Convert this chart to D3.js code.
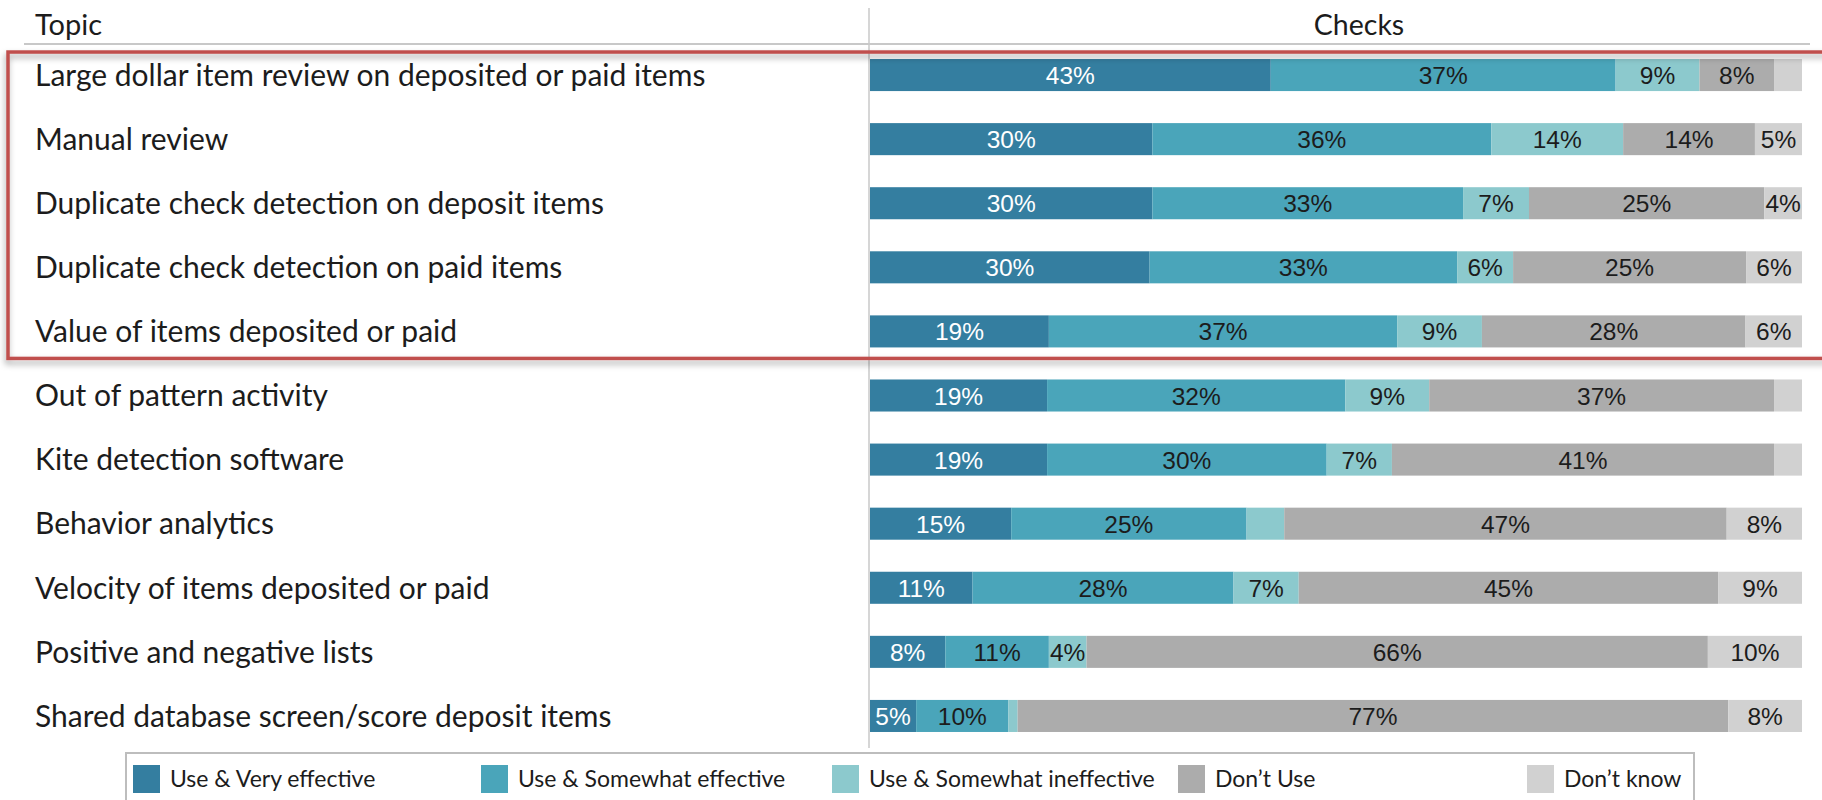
<!DOCTYPE html>
<html>
<head>
<meta charset="utf-8">
<script src="https://cdn.jsdelivr.net/npm/d3@7"></script>
<style>
  html, body { margin: 0; padding: 0; background: #fff; }
  svg { display: block; }
</style>
</head>
<body>
<svg id="chart" width="1822" height="800"></svg>
<script>
// Fraud-control tools for checks: share of respondents per effectiveness rating
const topics = [
  "Large dollar item review on deposited or paid items",
  "Manual review",
  "Duplicate check detection on deposit items",
  "Duplicate check detection on paid items",
  "Value of items deposited or paid",
  "Out of pattern activity",
  "Kite detection software",
  "Behavior analytics",
  "Velocity of items deposited or paid",
  "Positive and negative lists",
  "Shared database screen/score deposit items"
];

const seriesNames = [
  "Use & Very effective",
  "Use & Somewhat effective",
  "Use & Somewhat ineffective",
  "Don\u2019t Use",
  "Don\u2019t know"
];

const veryEffective       = [43, 30, 30, 30, 19, 19, 19, 15, 11,  8,  5];
const somewhatEffective   = [37, 36, 33, 33, 37, 32, 30, 25, 28, 11, 10];
const somewhatIneffective = [ 9, 14,  7,  6,  9,  9,  7,  4,  7,  4,  1];
const dontUse             = [ 8, 14, 25, 25, 28, 37, 41, 47, 45, 66, 77];
const dontKnow            = [ 3,  5,  4,  6,  6,  3,  3,  8,  9, 10,  8];

// Segments printed without a value label: [row, series]
const unlabelled = [[0, 4], [5, 4], [6, 4], [7, 2], [10, 2]];

const colors = ["#347ea0", "#4aa5ba", "#8cc9cd", "#acacac", "#d1d1d1"];
const labelColors = ["#ffffff", "#1c1c1c", "#1c1c1c", "#1c1c1c", "#1c1c1c"];

const rows = topics.map((t, i) => ({
  topic: t,
  s0: veryEffective[i],
  s1: somewhatEffective[i],
  s2: somewhatIneffective[i],
  s3: dontUse[i],
  s4: dontKnow[i]
}));
const keys = ["s0", "s1", "s2", "s3", "s4"];

const stacked = d3.stack().keys(keys).offset(d3.stackOffsetExpand)(rows);

const svg = d3.select("#chart");

const x = d3.scaleLinear().domain([0, 1]).range([870, 1802]);
const y = d3.scaleBand().domain(topics).range([43, 748])
  .paddingInner(0.5).paddingOuter(0.25);

const labelFont = "Lato, 'Open Sans', sans-serif";
const valueFont = "'Liberation Sans', Arial, sans-serif";

// drop shadow for the highlight frame
const defs = svg.append("defs");
const f = defs.append("filter").attr("id", "frameShadow")
  .attr("x", "-5%").attr("y", "-5%").attr("width", "110%").attr("height", "115%");
f.append("feDropShadow").attr("dx", -1).attr("dy", 4).attr("stdDeviation", 3)
  .attr("flood-color", "#000").attr("flood-opacity", 0.35);

// header row
svg.append("text").attr("x", 35).attr("y", 35)
  .attr("font-family", labelFont).attr("font-size", 29).attr("fill", "#1c1c1c")
  .text("Topic");
svg.append("text").attr("x", 1359).attr("y", 35).attr("text-anchor", "middle")
  .attr("font-family", labelFont).attr("font-size", 28.5).attr("fill", "#1c1c1c")
  .text("Checks");
svg.append("line").attr("x1", 24).attr("x2", 1810).attr("y1", 44).attr("y2", 44)
  .attr("stroke", "#c8c8c8").attr("stroke-width", 2);
svg.append("line").attr("x1", 869).attr("x2", 869).attr("y1", 8).attr("y2", 748)
  .attr("stroke", "#c8c8c8").attr("stroke-width", 1.5);

// bars
const layer = svg.append("g").selectAll("g").data(stacked).join("g")
  .attr("fill", (d, i) => colors[i]);
layer.selectAll("rect").data(d => d).join("rect")
  .attr("x", d => x(d[0]))
  .attr("y", d => y(d.data.topic))
  .attr("width", d => x(d[1]) - x(d[0]))
  .attr("height", y.bandwidth());

// value labels
const hidden = new Set(unlabelled.map(([r, s]) => r + ":" + s));
stacked.forEach((serie, si) => {
  svg.append("g").selectAll("text")
    .data(serie.map((d, ri) => ({ d, ri })).filter(o => !hidden.has(o.ri + ":" + si)))
    .join("text")
    .attr("x", o => (x(o.d[0]) + x(o.d[1])) / 2)
    .attr("y", o => y(o.d.data.topic) + y.bandwidth() / 2)
    .attr("dy", "0.37em")
    .attr("text-anchor", "middle")
    .attr("font-family", valueFont).attr("font-size", 24.5)
    .attr("fill", labelColors[si])
    .text(o => o.d.data[keys[si]] + "%");
});

// topic labels
svg.append("g").selectAll("text").data(topics).join("text")
  .attr("x", 35)
  .attr("y", d => y(d) + y.bandwidth() / 2)
  .attr("dy", "0.36em")
  .attr("font-family", labelFont).attr("font-size", 30).attr("fill", "#1c1c1c")
  .text(d => d);

// highlight frame around the first five topics
const frameTop = y(topics[0]) - 7;
const frameBottom = y(topics[4]) + y.bandwidth() + 11;
svg.append("rect").attr("x", 8).attr("y", frameTop)
  .attr("width", 1830).attr("height", frameBottom - frameTop)
  .attr("fill", "none").attr("stroke", "#c0504d").attr("stroke-width", 3.5)
  .attr("filter", "url(#frameShadow)");

// legend
const legend = svg.append("g");
legend.append("rect").attr("x", 126).attr("y", 753).attr("width", 1568).attr("height", 60)
  .attr("fill", "#fff").attr("stroke", "#bdbdbd").attr("stroke-width", 2);
const legendX = [133, 481, 832, 1178, 1527];
const item = legend.selectAll("g").data(seriesNames).join("g")
  .attr("transform", (d, i) => `translate(${legendX[i]},765)`);
item.append("rect").attr("width", 27).attr("height", 28)
  .attr("fill", (d, i) => colors[i]);
item.append("text").attr("x", 37).attr("y", 14).attr("dy", "0.36em")
  .attr("font-family", labelFont).attr("font-size", 23).attr("fill", "#1c1c1c")
  .text(d => d);
</script>
</body>
</html>
